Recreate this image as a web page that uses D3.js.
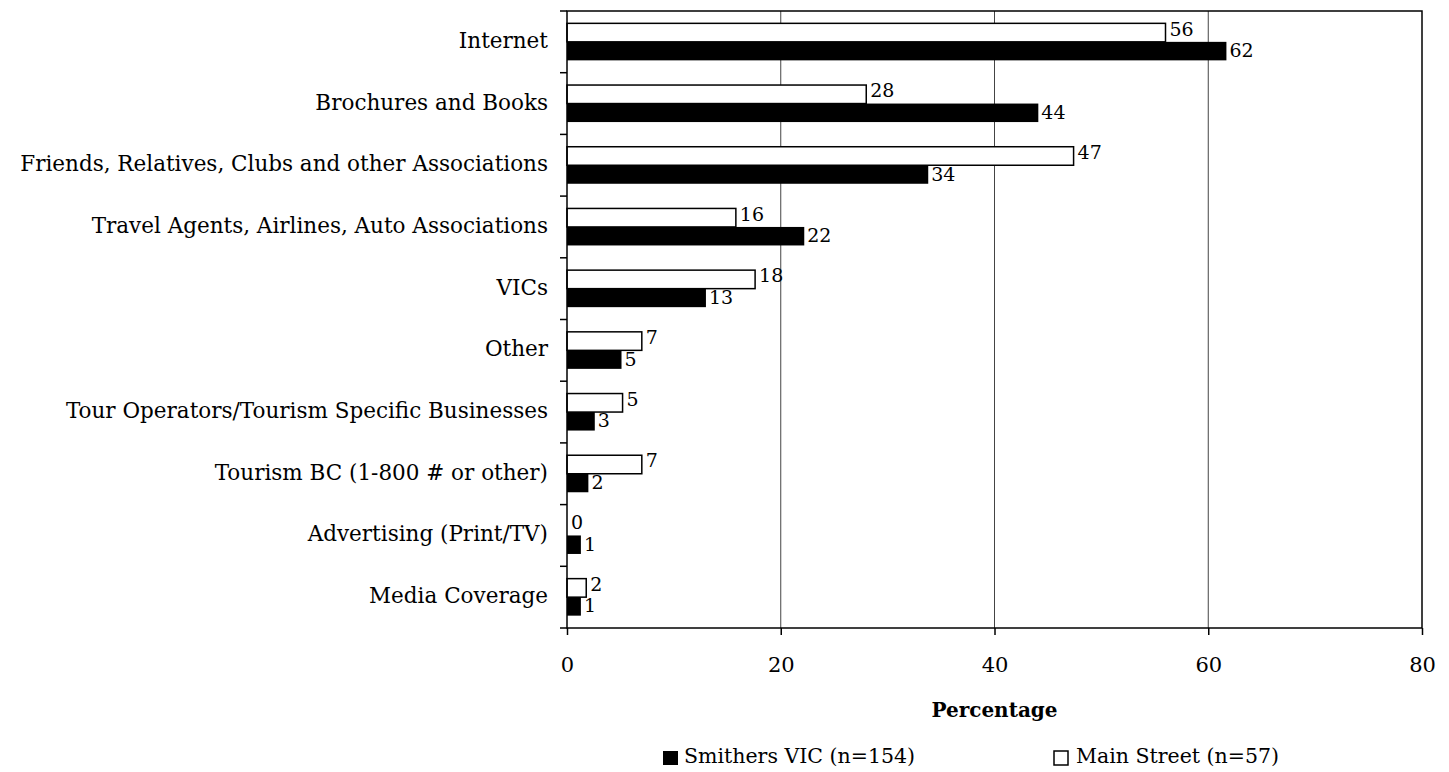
<!DOCTYPE html>
<html>
<head>
<meta charset="utf-8">
<script src="https://cdn.jsdelivr.net/npm/d3@7"></script>
<style>
  body { margin: 0; background: #fff; }
  svg { display: block; }
  text { font-family: "DejaVu Serif", "Liberation Serif", serif; fill: #000; }
</style>
</head>
<body>
<svg id="chart" width="1449" height="772"></svg>
<script>
// data (bar lengths estimated, labels are rounded)
const categories = [
  "Internet",
  "Brochures and Books",
  "Friends, Relatives, Clubs and other Associations",
  "Travel Agents, Airlines, Auto Associations",
  "VICs",
  "Other",
  "Tour Operators/Tourism Specific Businesses",
  "Tourism BC (1-800 # or other)",
  "Advertising (Print/TV)",
  "Media Coverage"
];
const mainStreet = [56.0, 28.0, 47.4, 15.8, 17.6, 7.0, 5.2, 7.0, 0, 1.8];
const smithersVIC = [61.7, 44.1, 33.8, 22.2, 13.0, 5.1, 2.6, 2.0, 1.3, 1.3];
const seriesNames = ["Smithers VIC (n=154)", "Main Street (n=57)"];
const xTicks = [0, 20, 40, 60, 80];

const plotLeft = 567, plotRight = 1422, plotTop = 11, plotBottom = 628;
const fmt = d3.format(".0f");

const svg = d3.select("#chart");

const x = d3.scaleLinear().domain([0, 80]).range([plotLeft, plotRight]);
const y = d3.scaleBand()
  .domain(categories)
  .range([plotTop, plotBottom])
  .paddingInner(0.4)
  .paddingOuter(0.2);
const sub = d3.scaleBand()
  .domain(["main", "smithers"])
  .range([0, y.bandwidth()]);

// gridlines
svg.append("g")
  .selectAll("line")
  .data(xTicks.slice(1, -1))
  .join("line")
  .attr("x1", d => x(d)).attr("x2", d => x(d))
  .attr("y1", plotTop).attr("y2", plotBottom)
  .attr("stroke", "#444")
  .attr("stroke-width", 1);

// bars
const rows = categories.map((c, i) => ({ cat: c, main: mainStreet[i], smithers: smithersVIC[i] }));

const g = svg.append("g");
rows.forEach(r => {
  const y0 = y(r.cat);
  if (r.main > 0) {
    g.append("rect")
      .attr("x", x(0))
      .attr("y", y0 + sub("main"))
      .attr("width", x(r.main) - x(0))
      .attr("height", sub.bandwidth())
      .attr("fill", "#fff")
      .attr("stroke", "#000")
      .attr("stroke-width", 1.5);
  }
  g.append("rect")
    .attr("x", x(0))
    .attr("y", y0 + sub("smithers"))
    .attr("width", x(r.smithers) - x(0))
    .attr("height", sub.bandwidth())
    .attr("fill", "#000");

  g.append("text")
    .attr("x", x(r.main) + 4)
    .attr("y", y0 + sub("main") + sub.bandwidth() / 2 - 2)
    .attr("dominant-baseline", "middle")
    .attr("font-size", 19)
    .text(fmt(r.main));
  g.append("text")
    .attr("x", x(r.smithers) + 3)
    .attr("y", y0 + sub("smithers") + sub.bandwidth() / 2 + 1)
    .attr("dominant-baseline", "middle")
    .attr("font-size", 19)
    .text(fmt(r.smithers));
});

// plot frame
svg.append("rect")
  .attr("x", plotLeft).attr("y", plotTop)
  .attr("width", plotRight - plotLeft).attr("height", plotBottom - plotTop)
  .attr("fill", "none")
  .attr("stroke", "#000")
  .attr("stroke-width", 1.5);

// x axis
const xAxis = d3.axisBottom(x).tickValues(xTicks).tickSize(7).tickPadding(22);
svg.append("g")
  .attr("transform", `translate(0, ${plotBottom})`)
  .call(xAxis)
  .call(a => a.select(".domain").remove())
  .call(a => a.selectAll("line").attr("stroke", "#000").attr("stroke-width", 1.5))
  .call(a => a.selectAll("text")
    .attr("font-family", "DejaVu Serif")
    .attr("font-size", 21)
    .attr("fill", "#000"));

// y axis: ticks at category boundaries
const step = y.step();
const bounds = d3.range(categories.length + 1).map(i => plotTop + i * step);
svg.append("g")
  .selectAll("line")
  .data(bounds)
  .join("line")
  .attr("x1", plotLeft - 7).attr("x2", plotLeft)
  .attr("y1", d => d).attr("y2", d => d)
  .attr("stroke", "#000")
  .attr("stroke-width", 1.5);

svg.append("g")
  .selectAll("text")
  .data(categories)
  .join("text")
  .attr("x", 548)
  .attr("y", d => y(d) + y.bandwidth() / 2)
  .attr("text-anchor", "end")
  .attr("dominant-baseline", "middle")
  .attr("font-size", 21.5)
  .text(d => d);

// axis title
svg.append("text")
  .attr("x", (plotLeft + plotRight) / 2)
  .attr("y", 711)
  .attr("text-anchor", "middle")
  .attr("dominant-baseline", "middle")
  .attr("font-size", 20)
  .attr("font-weight", "bold")
  .text("Percentage");

// legend
const legend = svg.append("g");
legend.append("rect")
  .attr("x", 663).attr("y", 751).attr("width", 15).attr("height", 14)
  .attr("fill", "#000");
legend.append("text")
  .attr("x", 684).attr("y", 757)
  .attr("dominant-baseline", "middle")
  .attr("font-size", 20.5)
  .text(seriesNames[0]);
legend.append("rect")
  .attr("x", 1054).attr("y", 751).attr("width", 14).attr("height", 14)
  .attr("fill", "#fff").attr("stroke", "#000").attr("stroke-width", 1.5);
legend.append("text")
  .attr("x", 1076).attr("y", 757)
  .attr("dominant-baseline", "middle")
  .attr("font-size", 20.5)
  .text(seriesNames[1]);
</script>
</body>
</html>
